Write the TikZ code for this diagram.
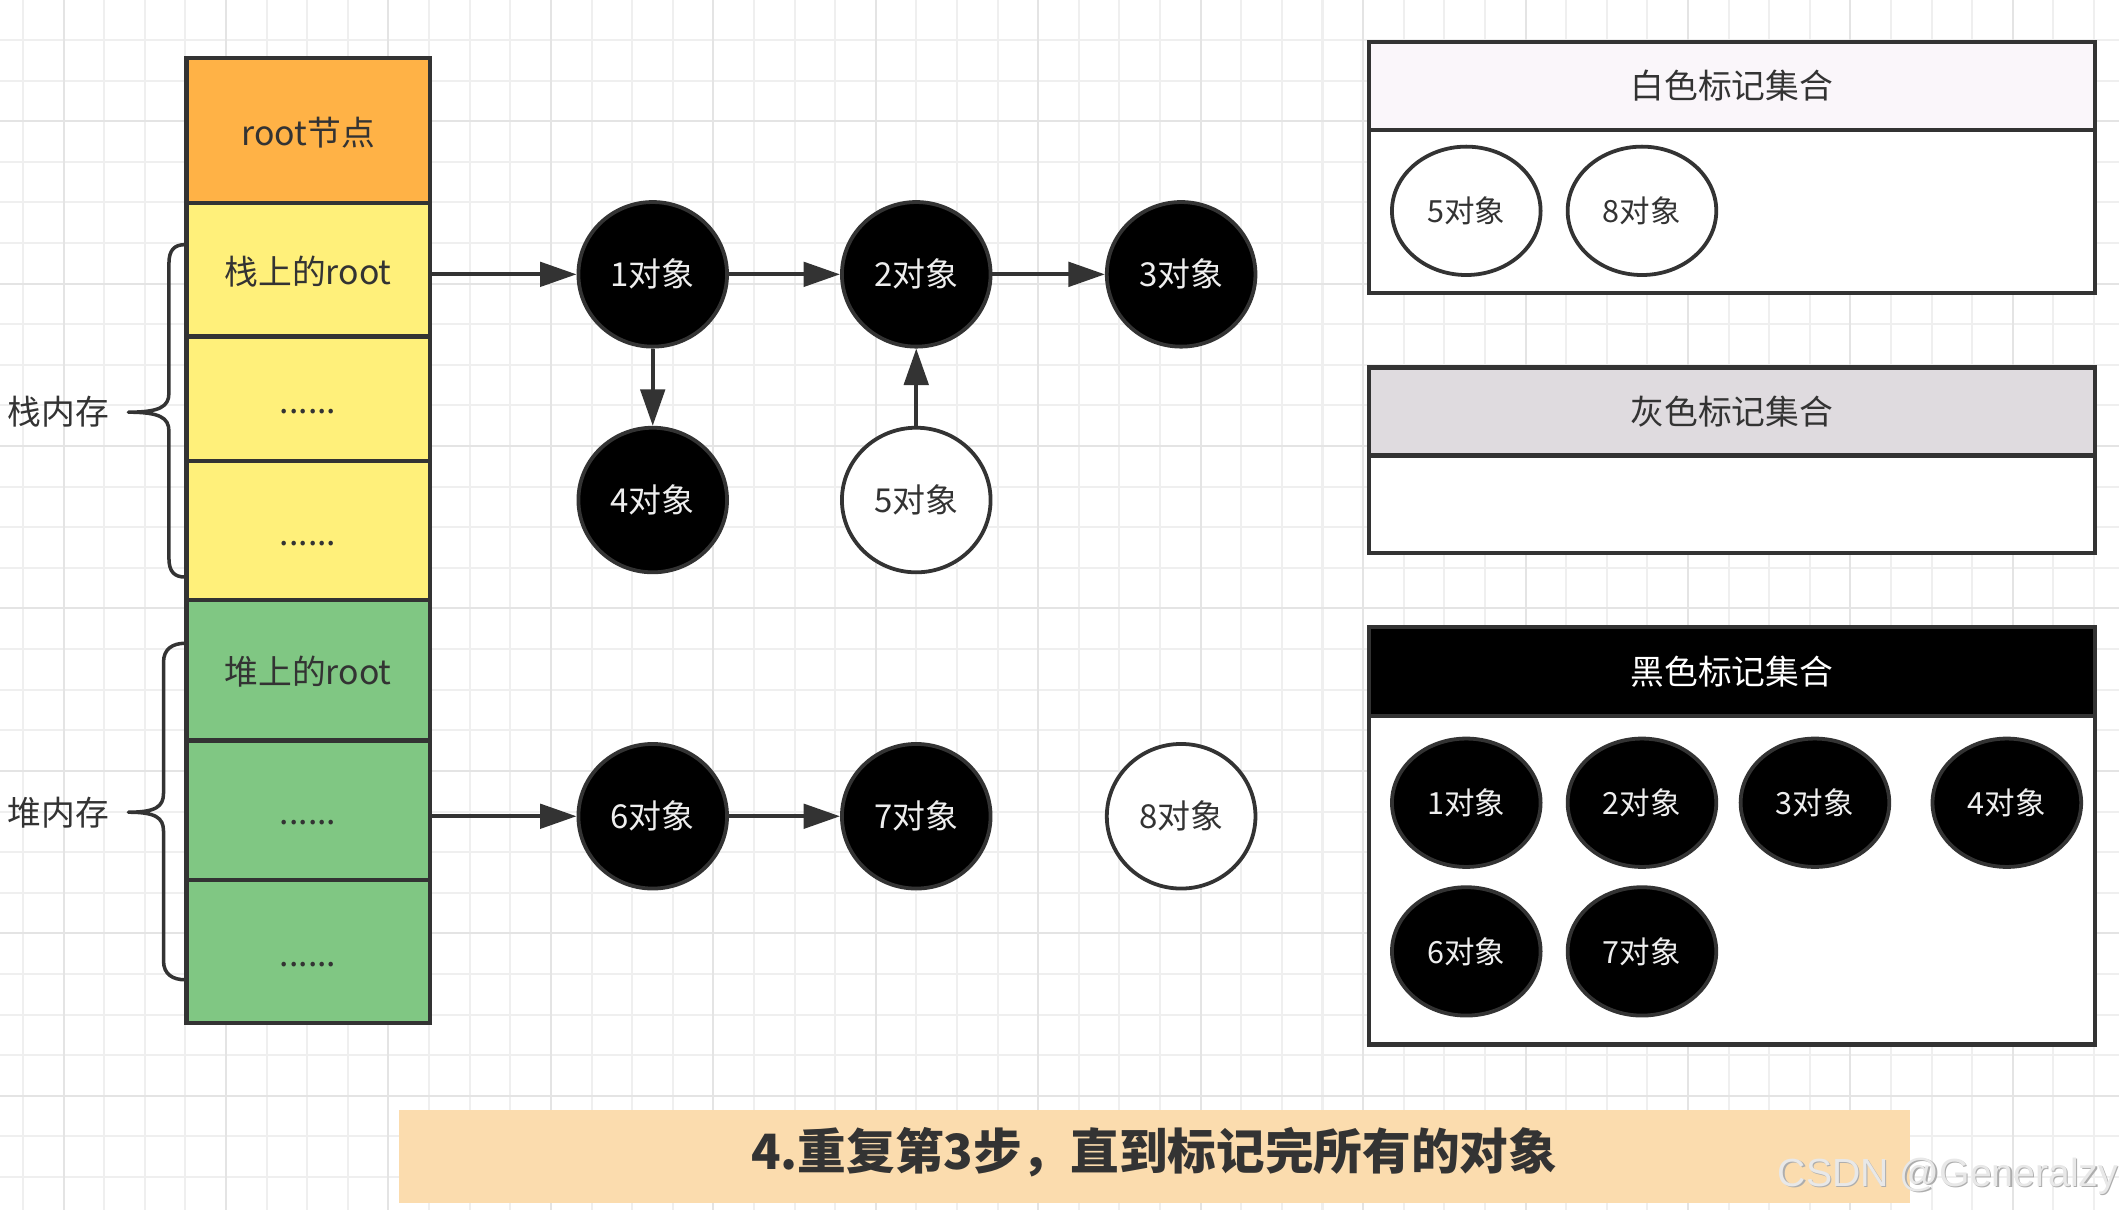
\documentclass[tikz,border=0pt]{standalone}
\usepackage{fontspec}
\setmainfont{Noto Sans CJK SC}
\newfontfamily\wmfont{Liberation Sans}
\usetikzlibrary{shapes.geometric,arrows.meta}
\definecolor{ink}{HTML}{333333}
\definecolor{objtext}{HTML}{EEEEEE}
\definecolor{orangecell}{HTML}{FFB246}
\definecolor{yellowcell}{HTML}{FFF07A}
\definecolor{greencell}{HTML}{80C783}
\definecolor{whitehead}{HTML}{FAF6FA}
\definecolor{grayhead}{HTML}{DFDBDF}
\definecolor{bannerfill}{HTML}{FBDCAE}
\definecolor{gridminor}{HTML}{EFEFEF}
\definecolor{gridmajor}{HTML}{E4E4E4}
\begin{document}
\begin{tikzpicture}[x=0.5pt,y=-0.5pt,
  font=\fontsize{12.5}{15}\selectfont, text=ink,
  cell/.style={draw=ink, line width=1.6pt, minimum width=90pt, inner sep=0pt,
    text height=1.08em, text depth=0em},
  obj/.style={ellipse, draw=ink, line width=1.4pt, fill=black, text=objtext,
    minimum width=55pt, minimum height=53.5pt, inner sep=0pt,
    font=\fontsize{12.2}{14}\selectfont},
  wobj/.style={obj, fill=white, text=ink},
  sobj/.style={obj, minimum height=47.5pt, font=\fontsize{11.3}{13}\selectfont},
  swobj/.style={sobj, fill=white, text=ink},
  panel/.style={draw=ink, line width=1.6pt, minimum width=268.5pt, inner sep=0pt, fill=white},
  arr/.style={draw=ink, line width=1.5pt, -{Triangle[length=13.5pt,width=9pt]}},
  brace/.style={draw=ink, line width=1.3pt, line join=round, line cap=round},
  wm/.style={font=\wmfont\fontsize{14.5}{16}\selectfont, anchor=base, inner sep=0pt}
]
\useasboundingbox (0,0) rectangle (1568,895);
\fill[white] (0,0) rectangle (1568,895);
% grid
\foreach \k in {0,...,51}{
  \pgfmathsetmacro\xx{17+30.05*\k}
  \draw[gridminor, line width=0.75pt] (\xx,0) -- (\xx,895);
}
\foreach \k in {1,...,29}{
  \pgfmathsetmacro\yy{-0.5+30.05*\k}
  \draw[gridminor, line width=0.75pt] (0,\yy) -- (1568,\yy);
}
\foreach \k in {1,5,...,49}{
  \pgfmathsetmacro\xx{17+30.05*\k}
  \draw[gridmajor, line width=0.75pt] (\xx,0) -- (\xx,895);
}
\foreach \k in {3,7,...,27}{
  \pgfmathsetmacro\yy{-0.5+30.05*\k}
  \draw[gridmajor, line width=0.75pt] (0,\yy) -- (1568,\yy);
}

% stack column
\node[cell, fill=orangecell, minimum height=53.5pt] (root) at (228,96.5) {root节点};
\node[cell, fill=yellowcell, minimum height=49.5pt] (r1) at (228,199.5) {栈上的root};
\node[cell, fill=yellowcell, minimum height=46pt] (r2) at (228,295) {......};
\node[cell, fill=yellowcell, minimum height=51.5pt] (r3) at (228,392.5) {......};
\node[cell, fill=greencell, minimum height=52pt] (h1) at (228,496) {堆上的root};
\node[cell, fill=greencell, minimum height=51.5pt] (h2) at (228,599.5) {......};
\node[cell, fill=greencell, minimum height=53pt] (h3) at (228,704) {......};

% braces
\draw[brace] (137,181) .. controls (129,181) and (125,185) .. (125,195) -- (125,291)
  .. controls (125,301) and (118,305) .. (95,305)
  .. controls (118,305) and (125,309) .. (125,319) -- (125,413)
  .. controls (125,423) and (129,427) .. (137,427);
\node (stacklbl) at (43,305) {栈内存};
\draw[brace] (137,476) .. controls (128,476) and (121,480) .. (121,490) -- (121,587)
  .. controls (121,597) and (115,601) .. (95,601)
  .. controls (115,601) and (121,605) .. (121,615) -- (121,711)
  .. controls (121,721) and (128,725) .. (137,725);
\node (heaplbl) at (43,601) {堆内存};

% object graph
\node[obj] (o1) at (483,203) {1对象};
\node[obj] (o2) at (678,203) {2对象};
\node[obj] (o3) at (874,203) {3对象};
\node[obj] (o4) at (483,370) {4对象};
\node[wobj] (o5) at (678,370) {5对象};
\node[obj] (o6) at (483,604) {6对象};
\node[obj] (o7) at (678,604) {7对象};
\node[wobj] (o8) at (874,604) {8对象};

\draw[arr] (r1.east |- o1.west) -- (o1.west);
\draw[arr] (o1.east) -- (o2.west);
\draw[arr] (o2.east) -- (o3.west);
\draw[arr] (o1.south) -- (o4.north);
\draw[arr] (o5.north) -- (o2.south);
\draw[arr] (h2.east |- o6.west) -- (o6.west);
\draw[arr] (o6.east) -- (o7.west);

% white set
\node[panel, minimum height=60.5pt] (wbody) at (1281.5,156.5) {};
\node[panel, fill=whitehead, minimum height=32.5pt] (whead) at (1281.5,63.5) {白色标记集合};
\node[swobj] (w5) at (1085,156) {5对象};
\node[swobj] (w8) at (1215,156) {8对象};

% gray set
\node[panel, minimum height=36pt] (gbody) at (1281.5,373) {};
\node[panel, fill=grayhead, minimum height=32.5pt] (ghead) at (1281.5,304.5) {灰色标记集合};

% black set
\node[panel, minimum height=121.5pt] (bbody) at (1281.5,651.5) {};
\node[panel, fill=black, text=white, minimum height=33pt] (bhead) at (1281.5,497) {黑色标记集合};
\node[sobj] (b1) at (1085,594) {1对象};
\node[sobj] (b2) at (1215,594) {2对象};
\node[sobj] (b3) at (1343,594) {3对象};
\node[sobj] (b4) at (1485,594) {4对象};
\node[sobj] (b6) at (1085,704) {6对象};
\node[sobj] (b7) at (1215,704) {7对象};

% banner
\node[fill=bannerfill, minimum width=559pt, minimum height=34.5pt, inner sep=0pt,
  font=\fontsize{18}{20}\selectfont\bfseries, text height=1.0em, text depth=0em]
  (banner) at (854,855.5) {4.重复第3步，直到标记完所有的对象};

% watermark
\node[wm, text=black!32] (wmshadow) at (1442.5,879) {CSDN @Generalzy};
\node[wm, text=black!9] (wmtext) at (1441.5,878) {CSDN @Generalzy};
\end{tikzpicture}
\end{document}
